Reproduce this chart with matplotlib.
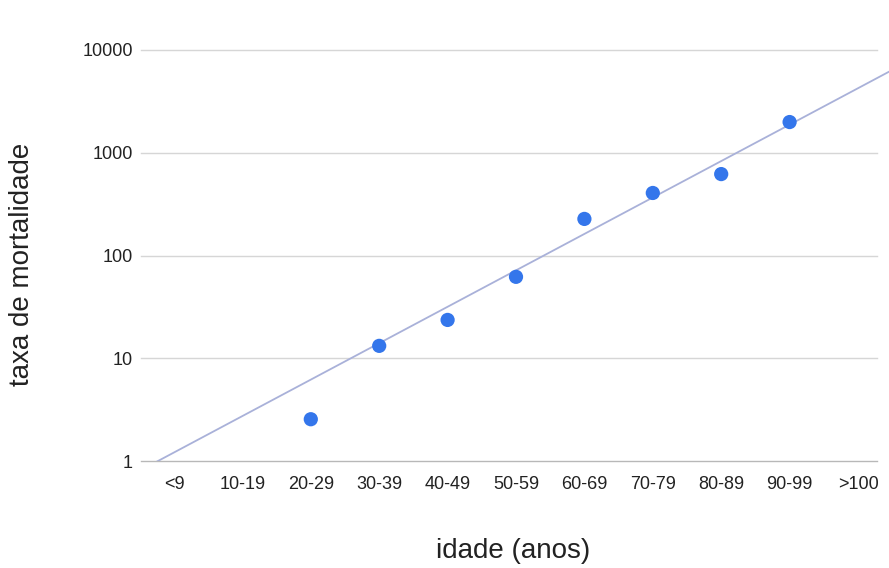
import numpy as np
import matplotlib
matplotlib.use("Agg")
import matplotlib.pyplot as plt
from matplotlib.ticker import FixedLocator, NullLocator

plt.rcParams['font.family'] = ['Liberation Sans', 'DejaVu Sans']

categories = ['<9', '10-19', '20-29', '30-39', '40-49', '50-59', '60-69',
              '70-79', '80-89', '90-99', '>100']
point_idx = [2, 3, 4, 5, 6, 7, 8, 9]
mortality = [2.55, 13.2, 23.6, 62, 227, 406, 620, 1990]
# exponential trendline: log10(y) = trend_c + trend_m * index
trend_c = 0.083
trend_m = 0.3545
y_ticks = [1, 10, 100, 1000, 10000]
y_tick_labels = ['1', '10', '100', '1000', '10000']

W, H = 889, 568
fig = plt.figure(figsize=(W / 100, H / 100), dpi=100)
left_px, right_px, top_px, bottom_px = 141, 889, 50, 461
ax = fig.add_axes([left_px / W, 1 - bottom_px / H,
                   (right_px - left_px) / W, (bottom_px - top_px) / H])

x0 = -0.4825
x1 = x0 + (right_px - left_px) / 68.4
ax.set_xlim(x0, x1)
ax.set_yscale('log')
ax.set_ylim(1, 10000)

grid_frac = (877 - left_px) / (right_px - left_px)
for v in y_ticks[1:]:
    ax.axhline(v, xmin=0, xmax=grid_frac, color='#d6d6d6', lw=1.0, zorder=1,
               clip_on=False)
ax.axhline(1, xmin=0, xmax=grid_frac, color='#b8b8b8', lw=1.0, zorder=1,
           clip_on=False)

xs = np.linspace(x0, x1, 200)
ax.plot(xs, 10 ** (trend_c + trend_m * xs), color='#a9b1d9', lw=1.3, zorder=2)

ax.scatter(point_idx, mortality, s=105, color='#3476eb', edgecolors='none',
           zorder=3, clip_on=False)

for s in ax.spines.values():
    s.set_visible(False)

ax.xaxis.set_major_locator(FixedLocator(list(range(len(categories)))))
ax.set_xticklabels(categories)
ax.yaxis.set_major_locator(FixedLocator(y_ticks))
ax.yaxis.set_minor_locator(NullLocator())
ax.set_yticklabels(y_tick_labels)
ax.tick_params(axis='both', length=0, labelsize=13, colors='#222222')
ax.tick_params(axis='x', pad=11)
ax.tick_params(axis='y', pad=6)

fig.text(513 / W, 1 - 551 / H, 'idade (anos)', ha='center', va='center',
         fontsize=20, color='#222222')
fig.text(22 / W, 1 - 264 / H, 'taxa de mortalidade', ha='center', va='center',
         rotation=90, fontsize=20, color='#222222')

fig.savefig('out.png', dpi=100, facecolor='white')
